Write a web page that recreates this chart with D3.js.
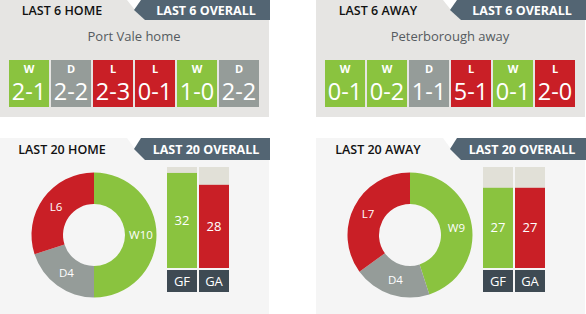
<!DOCTYPE html>
<html>
<head>
<meta charset="utf-8">
<script src="https://cdn.jsdelivr.net/npm/d3@7"></script>
<style>
  html, body { margin: 0; padding: 0; background: #fff; }
  svg { display: block; font-family: "Open Sans", "Lato", sans-serif; }
</style>
</head>
<body>
<div id="chart"></div>
<script>
// last 6 form
const last6Tabs = ["LAST 6 HOME", "LAST 6 AWAY"];
const last6Overall = "LAST 6 OVERALL";
const last6Titles = ["Port Vale home", "Peterborough away"];
const homeResults = ["W", "D", "L", "L", "W", "D"];
const homeScores = ["2-1", "2-2", "2-3", "0-1", "1-0", "2-2"];
const awayResults = ["W", "W", "D", "L", "W", "L"];
const awayScores = ["0-1", "0-2", "1-1", "5-1", "0-1", "2-0"];

// last 20 summary
const last20Tabs = ["LAST 20 HOME", "LAST 20 AWAY"];
const last20Overall = "LAST 20 OVERALL";
const outcomeLabels = ["W", "D", "L"];
const homeOutcomes = [10, 4, 6];
const awayOutcomes = [9, 4, 7];
const goalLabels = ["GF", "GA"];
const homeGoals = [32, 28];
const awayGoals = [27, 27];
const goalMax = 34;

const colors = { W: "#8ac33f", D: "#959c99", L: "#c91f26" };
const goalColors = { GF: "#8ac33f", GA: "#c91f26" };

const width = 586, height = 314;
const panelW = 270;

const svg = d3.select("#chart").append("svg")
  .attr("width", width)
  .attr("height", height);

function drawHeader(g, y, h, leftText, rightText, bg) {
  // white notch above arrow tip
  g.append("polygon")
    .attr("points", `127,${y} 141,${y} 135,${y + h / 2}`)
    .attr("fill", "#fff");
  g.append("polygon")
    .attr("points", `141,${y} ${panelW},${y} ${panelW},${y + h} 145,${y + h} 134,${y + h / 2}`)
    .attr("fill", "#536573");
  g.append("text")
    .attr("x", 62)
    .attr("y", y + h / 2 + 4.5)
    .attr("text-anchor", "middle")
    .attr("font-size", 12.5)
    .attr("font-weight", 600)
    .attr("fill", "#111")
    .text(leftText);
  g.append("text")
    .attr("x", 206)
    .attr("y", y + h / 2 + 4.5)
    .attr("text-anchor", "middle")
    .attr("font-size", 12.5)
    .attr("font-weight", 700)
    .attr("fill", "#fff")
    .text(rightText);
}

const last6 = [
  { results: homeResults, scores: homeScores },
  { results: awayResults, scores: awayScores }
];
const last20 = [
  { outcomes: homeOutcomes, goals: homeGoals },
  { outcomes: awayOutcomes, goals: awayGoals }
];

const panelX = [0, 316];

panelX.forEach((px, i) => {
  // ---- top panel: last 6 ----
  const top = svg.append("g").attr("transform", `translate(${px},0)`);
  top.append("rect")
    .attr("width", panelW - 1)
    .attr("height", 117)
    .attr("fill", "#e6e5e3");
  drawHeader(top, 0, 20, last6Tabs[i], last6Overall);

  top.append("text")
    .attr("x", 134)
    .attr("y", 41)
    .attr("text-anchor", "middle")
    .attr("font-size", 13)
    .attr("fill", "#555b60")
    .text(last6Titles[i]);

  const d = last6[i];
  const xBox = d3.scaleBand()
    .domain(d3.range(d.results.length))
    .range([9, 259])
    .paddingInner(2 / 42);

  const box = top.selectAll(".box")
    .data(d.results.map((r, j) => ({ r, s: d.scores[j], j })))
    .enter()
    .append("g")
    .attr("class", "box")
    .attr("transform", (e) => `translate(${xBox(e.j)},60)`);

  box.append("rect")
    .attr("width", xBox.bandwidth())
    .attr("height", 47)
    .attr("fill", (e) => colors[e.r]);
  box.append("text")
    .attr("x", xBox.bandwidth() / 2)
    .attr("y", 13)
    .attr("text-anchor", "middle")
    .attr("font-size", 11)
    .attr("font-weight", 700)
    .attr("fill", "#fff")
    .text((e) => e.r);
  box.append("text")
    .attr("x", xBox.bandwidth() / 2)
    .attr("y", 40)
    .attr("text-anchor", "middle")
    .attr("font-size", 23.5)
    .attr("fill", "#fff")
    .text((e) => e.s);

  // ---- bottom panel: last 20 ----
  const bot = svg.append("g").attr("transform", `translate(${px},0)`);
  bot.append("rect")
    .attr("y", 138)
    .attr("width", panelW - 1)
    .attr("height", height - 138)
    .attr("fill", "#f5f5f5");
  drawHeader(bot, 138, 22, last20Tabs[i], last20Overall);

  const s = last20[i];
  const pie = d3.pie().sort(null).value((v) => v.n);
  const arcs = pie(outcomeLabels.map((k, j) => ({ k, n: s.outcomes[j] })));
  const arc = d3.arc().innerRadius(31).outerRadius(62.5);
  const labelArc = d3.arc().innerRadius(47).outerRadius(47);

  const donut = bot.append("g").attr("transform", "translate(94,235)");
  donut.selectAll("path")
    .data(arcs)
    .enter()
    .append("path")
    .attr("d", arc)
    .attr("fill", (a) => colors[a.data.k]);
  donut.selectAll("text")
    .data(arcs)
    .enter()
    .append("text")
    .attr("transform", (a) => `translate(${labelArc.centroid(a)})`)
    .attr("dy", "0.35em")
    .attr("text-anchor", "middle")
    .attr("font-size", 11.5)
    .attr("fill", "#fff")
    .text((a) => a.data.k + a.data.n);

  const xBar = d3.scaleBand()
    .domain(goalLabels)
    .range([167, 229])
    .paddingInner(2 / 32);
  const yBar = d3.scaleLinear()
    .domain([0, goalMax])
    .range([268, 167]);

  const goals = goalLabels.map((k, j) => ({ k, v: s.goals[j] }));

  bot.selectAll(".bar-bg")
    .data(goals)
    .enter()
    .append("rect")
    .attr("class", "bar-bg")
    .attr("x", (g) => xBar(g.k))
    .attr("y", yBar(goalMax))
    .attr("width", xBar.bandwidth())
    .attr("height", yBar(0) - yBar(goalMax))
    .attr("fill", "#e1e0d7");
  bot.selectAll(".bar")
    .data(goals)
    .enter()
    .append("rect")
    .attr("class", "bar")
    .attr("x", (g) => xBar(g.k))
    .attr("y", (g) => yBar(g.v))
    .attr("width", xBar.bandwidth())
    .attr("height", (g) => yBar(0) - yBar(g.v))
    .attr("fill", (g) => goalColors[g.k]);
  bot.selectAll(".bar-value")
    .data(goals)
    .enter()
    .append("text")
    .attr("class", "bar-value")
    .attr("x", (g) => xBar(g.k) + xBar.bandwidth() / 2)
    .attr("y", (g) => (yBar(g.v) + yBar(0)) / 2)
    .attr("dy", "0.35em")
    .attr("text-anchor", "middle")
    .attr("font-size", 13)
    .attr("fill", "#fff")
    .text((g) => g.v);

  bot.selectAll(".goal-label-bg")
    .data(goals)
    .enter()
    .append("rect")
    .attr("class", "goal-label-bg")
    .attr("x", (g) => xBar(g.k))
    .attr("y", 270)
    .attr("width", xBar.bandwidth())
    .attr("height", 22)
    .attr("fill", "#3e4a53");
  bot.selectAll(".goal-label")
    .data(goals)
    .enter()
    .append("text")
    .attr("class", "goal-label")
    .attr("x", (g) => xBar(g.k) + xBar.bandwidth() / 2)
    .attr("y", 281)
    .attr("dy", "0.35em")
    .attr("text-anchor", "middle")
    .attr("font-size", 13)
    .attr("fill", "#fff")
    .text((g) => g.k);
});
</script>
</body>
</html>
